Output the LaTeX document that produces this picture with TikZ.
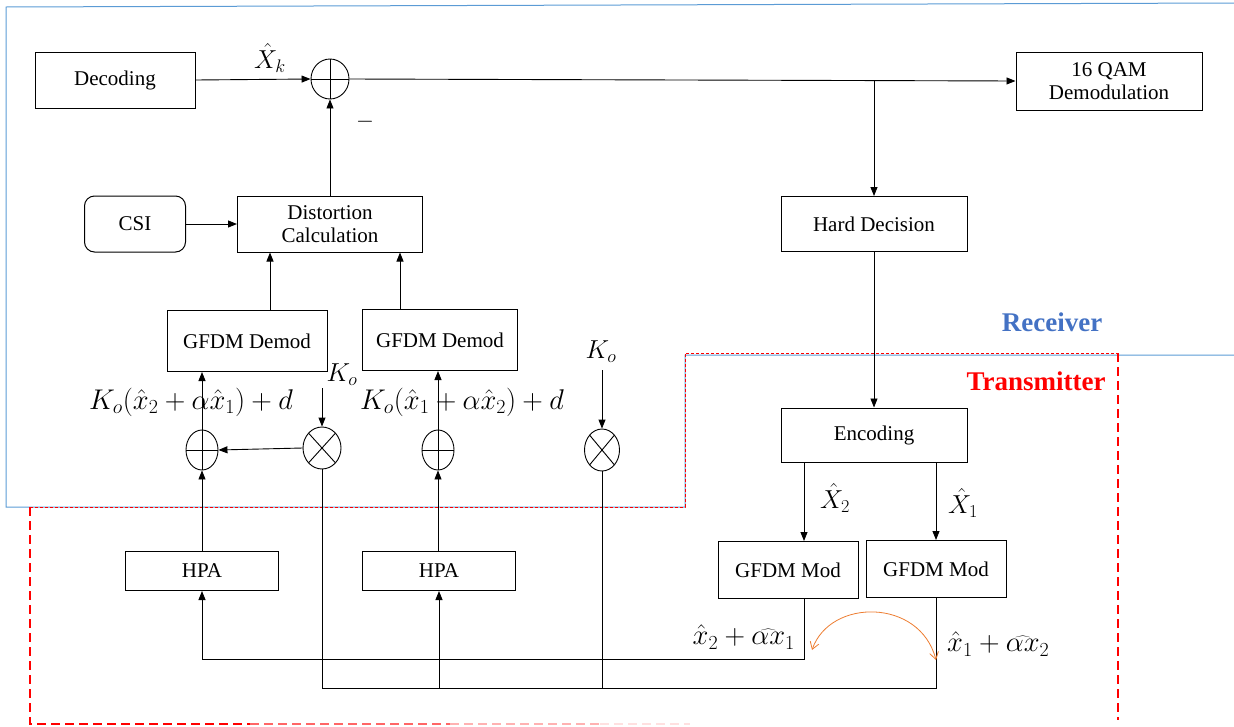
\RequirePackage{fix-cm}
\documentclass[tikz,border=0pt]{standalone}
\usepackage{fontspec}
\setmainfont{Liberation Serif}
\usetikzlibrary{arrows.meta,shapes.geometric,calc}
\definecolor{rxblue}{RGB}{91,155,213}
\definecolor{rxtext}{RGB}{68,114,196}
\definecolor{arcorange}{RGB}{237,125,49}
\begin{document}
\begin{tikzpicture}[x=1pt,y=-1pt,
  box/.style={draw, line width=1pt, align=center, inner sep=0pt,
    font=\fontsize{21}{23}\selectfont},
  arr/.style={line width=0.9pt, -{Triangle[length=9pt,width=7pt]}},
  ln/.style={line width=0.9pt},
  mlab/.style={font=\fontsize{26}{30}\selectfont, inner sep=0pt},
  mlong/.style={font=\fontsize{28.5}{32}\selectfont, inner sep=0pt},
  sumc/.style={draw, ellipse, line width=0.9pt, minimum width=#1, minimum height=40pt, inner sep=0pt,
    path picture={\draw[line width=0.9pt] (path picture bounding box.north) -- (path picture bounding box.south)
      (path picture bounding box.west) -- (path picture bounding box.east);}},
  mulc/.style={draw, ellipse, line width=0.9pt, minimum width=#1, minimum height=42pt, inner sep=0pt,
    path picture={\draw[line width=0.9pt] (path picture bounding box.north west) -- (path picture bounding box.south east)
      (path picture bounding box.south west) -- (path picture bounding box.north east);}}
]
\useasboundingbox (0,0) rectangle (1234,726);

% region borders
\draw[rxblue, line width=1pt] (1234,3) -- (6,7) -- (6,507) -- (685,507) -- (685,355) -- (1234,355);
\draw[red, line width=1pt, dash pattern=on 3pt off 2pt] (30,507) -- (685,507) -- (685,353) -- (1118,353);
\draw[red, line width=1.6pt, dash pattern=on 9pt off 5pt] (1118,353) -- (1118,720);
\draw[red, line width=1.6pt, dash pattern=on 9pt off 5pt] (30,507) -- (30,724) -- (250,724);
\draw[red!60, line width=1.4pt, dash pattern=on 9pt off 5pt] (250,724) -- (450,724);
\draw[red!30, line width=1.4pt, dash pattern=on 9pt off 5pt] (450,724) -- (600,724);
\draw[red!12, line width=1.4pt, dash pattern=on 9pt off 5pt] (600,724) -- (690,724);

\node[font=\fontsize{27}{30}\selectfont\bfseries, text=rxtext] (rxl) at (1052,322) {Receiver};
\node[font=\fontsize{27}{30}\selectfont\bfseries, text=red] (txl) at (1036,381) {Transmitter};

% receiver blocks
\node[box, minimum width=160pt, minimum height=56pt] (dec) at (115,80) {Decoding};
\node[sumc=38pt] (sum0) at (330,79) {};
\node[box, minimum width=186pt, minimum height=58pt] (qam) at (1109,81) {16 QAM\\Demodulation};
\node[box, minimum width=186pt, minimum height=55pt] (hd) at (874,224) {Hard Decision};
\node[box, rounded corners=10pt, minimum width=101pt, minimum height=56pt] (csi) at (135,224) {CSI};
\node[box, minimum width=185pt, minimum height=56pt] (dist) at (330,224) {Distortion\\Calculation};
\node[box, minimum width=160pt, minimum height=61pt] (gd1) at (247,341) {GFDM Demod};
\node[box, minimum width=155pt, minimum height=61pt] (gd2) at (440,340) {GFDM Demod};

\node[sumc=32pt] (sum1) at (202,450) {};
\node[mulc=38pt] (mul1) at (322,448) {};
\node[sumc=32pt] (sum2) at (438,450) {};
\node[mulc=35pt] (mul2) at (602,450) {};

\node[box, minimum width=153pt, minimum height=39pt] (hpa1) at (202,571) {HPA};
\node[box, minimum width=153pt, minimum height=39pt] (hpa2) at (439,571) {HPA};

% transmitter blocks
\node[box, minimum width=186pt, minimum height=54pt] (enc) at (874,435) {Encoding};
\node[box, minimum width=140pt, minimum height=57pt] (gm1) at (788,570) {GFDM Mod};
\node[box, minimum width=140pt, minimum height=57pt] (gm2) at (936,569) {GFDM Mod};

% labels
\node[mlab] (lxk) at (270,58) {$\hat{X}_k$};
\node[mlab, font=\fontsize{23}{26}\selectfont] (lmin) at (365,122) {$-$};
\node[mlab] (lk1) at (342,375) {$K_o$};
\node[mlab] (lk2) at (601,352) {$K_o$};
\node[mlong] (le1) at (191,402) {$K_o(\hat{x}_2+\alpha\hat{x}_1)+d$};
\node[mlong] (le2) at (462,402) {$K_o(\hat{x}_1+\alpha\hat{x}_2)+d$};
\node[mlab] (lx2) at (835,498) {$\hat{X}_2$};
\node[mlab] (lx1) at (963,503) {$\hat{X}_1$};
\node[mlong, anchor=east] (lm1) at (795,637) {$\hat{x}_2+\widehat{\alpha x}_1$};
\node[mlong, anchor=west] (lm2) at (947,644) {$\hat{x}_1+\widehat{\alpha x}_2$};

% coordinates
\coordinate (j1) at (874,80);
\coordinate (ka1) at (322,388);
\coordinate (ka2) at (602,370);
\coordinate (b1) at (804,659);
\coordinate (b2) at (936,688);

% receiver connectors
\draw[arr] (dec.east) -- (sum0.west);
\draw[arr] (dist.north) -- (sum0.south);
\draw[arr] (csi.east) -- (dist.west);
\draw[arr] (sum0.east) -- (qam.west);
\draw[arr] (j1) -- (hd.north);
\draw[arr] ([xshift=23pt]gd1.north) -- ([xshift=23pt]gd1.north |- dist.south);
\draw[arr] ([xshift=-40pt]gd2.north) -- ([xshift=-40pt]gd2.north |- dist.south);
\draw[arr] (sum1.north) -- (sum1.north |- gd1.south);
\draw[arr] (sum2.north) -- (sum2.north |- gd2.south);
\draw[arr] (ka1) -- (mul1.north);
\draw[arr] (ka2) -- (mul2.north);
\draw[arr] (mul1.west) -- (sum1.east);
\draw[arr] (hpa1.north) -- (sum1.south);
\draw[arr] (hpa2.north -| sum2.south) -- (sum2.south);

% transmitter connectors
\draw[arr] (hd.south) -- (enc.north);
\draw[arr] (b1 |- enc.south) -- (b1 |- gm1.north);
\draw[arr] (gm2.north |- enc.south) -- (gm2.north);
\draw[arr] (b1 |- gm1.south) -- (b1) -| (hpa1.south);
\draw[ln] (mul1.south) |- (b2) -- (gm2.south);
\draw[ln] (mul2.south) -- (mul2.south |- b2);
\draw[arr] (hpa2.south |- b2) -- (hpa2.south);

% orange swap arc
\coordinate (oa) at (812,650);
\coordinate (ob) at (936,660);
\draw[arcorange, line width=0.8pt, {Straight Barb[length=7pt,width=9pt]}-{Straight Barb[length=7pt,width=9pt]}]
  (oa) .. controls (830,598) and (920,598) .. (ob);
\end{tikzpicture}
\end{document}
